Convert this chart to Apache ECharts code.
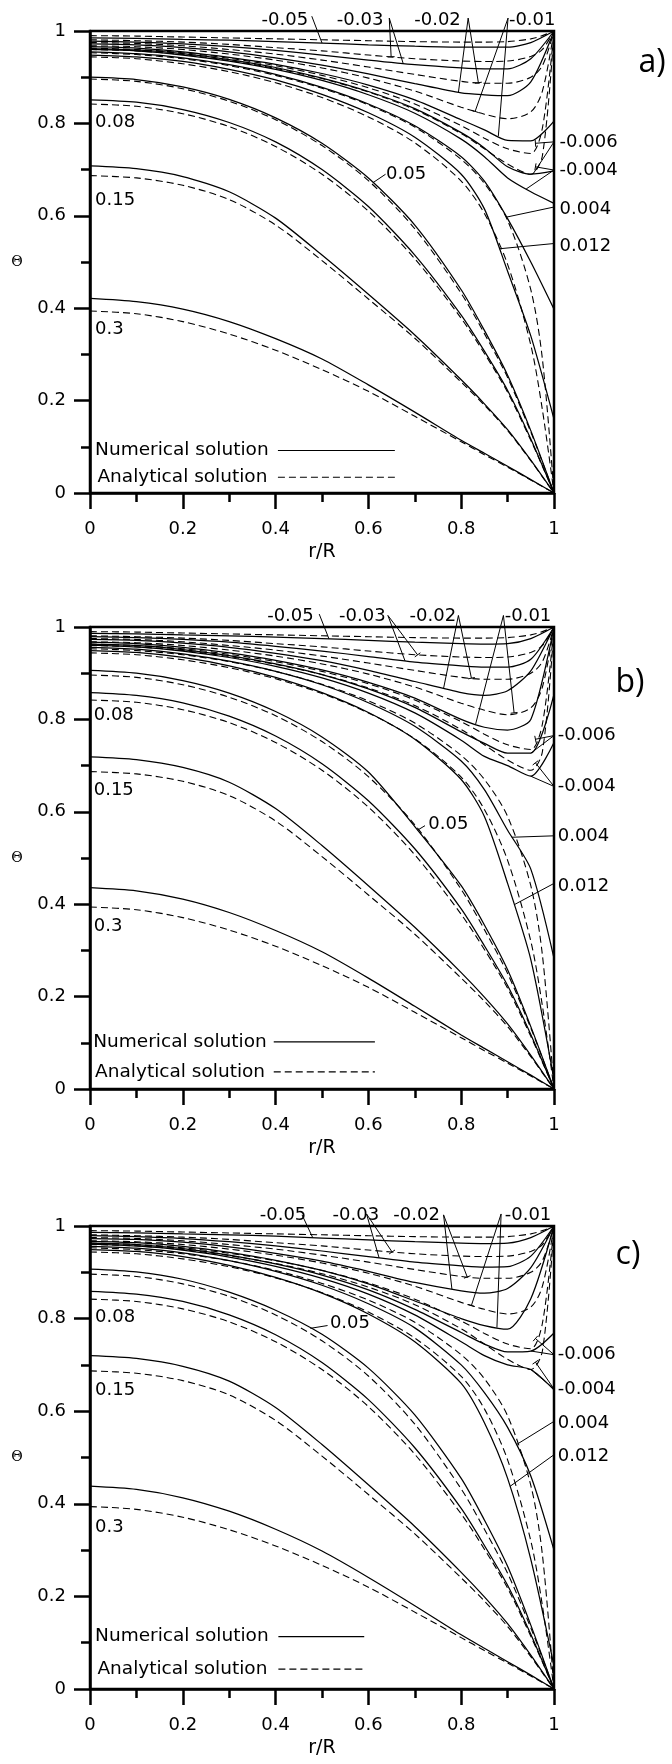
<!DOCTYPE html>
<html>
<head>
<meta charset="utf-8">
<script src="https://cdn.jsdelivr.net/npm/echarts@6/dist/echarts.min.js"></script>
<style>
  html, body { margin: 0; padding: 0; background: #fff; }
  #chart { width: 672px; height: 1764px; }
</style>
</head>
<body>
<div id="chart"></div>
<script>
// Radial positions of the numerical grid and of the analytical evaluation points
const R_NUM = [0, 0.1, 0.2, 0.3, 0.4, 0.5, 0.6, 0.7, 0.8, 0.85, 0.9, 0.95, 1];
const R_ANA = [0, 0.1, 0.2, 0.3, 0.4, 0.5, 0.6, 0.7, 0.8, 0.85, 0.9, 0.95, 0.975, 1];

// Curve parameter of each profile (row order of the value tables below)
const PARAMS = ['-0.05', '-0.03', '-0.02', '-0.01', '-0.006', '-0.004', '0.004', '0.012', '0.05', '0.08', '0.15', '0.3'];

// Analytical solution (same in all three panels), on R_ANA
const ANA = [
  [0.990, 0.989, 0.987, 0.985, 0.983, 0.981, 0.979, 0.977, 0.976, 0.976, 0.977, 0.983, 0.990, 1.0],
  [0.981, 0.979, 0.976, 0.971, 0.964, 0.957, 0.948, 0.940, 0.935, 0.934, 0.935, 0.945, 0.960, 1.0],
  [0.975, 0.973, 0.968, 0.960, 0.950, 0.937, 0.922, 0.906, 0.891, 0.887, 0.887, 0.900, 0.925, 1.0],
  [0.968, 0.966, 0.960, 0.950, 0.937, 0.920, 0.898, 0.870, 0.835, 0.820, 0.810, 0.825, 0.870, 1.0],
  [0.963, 0.960, 0.953, 0.941, 0.925, 0.904, 0.877, 0.842, 0.795, 0.768, 0.745, 0.735, 0.790, 1.0],
  [0.960, 0.957, 0.949, 0.936, 0.919, 0.897, 0.868, 0.830, 0.778, 0.745, 0.712, 0.690, 0.730, 1.0],
  [0.953, 0.949, 0.940, 0.925, 0.904, 0.876, 0.840, 0.792, 0.722, 0.670, 0.590, 0.440, 0.290, 0],
  [0.944, 0.940, 0.929, 0.912, 0.888, 0.856, 0.814, 0.758, 0.675, 0.605, 0.495, 0.320, 0.180, 0],
  [0.896, 0.891, 0.875, 0.848, 0.808, 0.752, 0.676, 0.572, 0.432, 0.345, 0.250, 0.132, 0.067, 0],
  [0.842, 0.837, 0.821, 0.793, 0.750, 0.690, 0.610, 0.507, 0.378, 0.302, 0.218, 0.114, 0.058, 0],
  [0.687, 0.682, 0.666, 0.635, 0.580, 0.503, 0.420, 0.335, 0.240, 0.190, 0.135, 0.070, 0.035, 0],
  [0.394, 0.388, 0.371, 0.344, 0.309, 0.267, 0.220, 0.166, 0.111, 0.083, 0.056, 0.028, 0.014, 0]
];

// Numerical solution, panel a), on R_NUM
const NUM_A = [
  [0.985, 0.984, 0.982, 0.980, 0.977, 0.974, 0.970, 0.967, 0.965, 0.965, 0.965, 0.975, 1.0],
  [0.978, 0.976, 0.972, 0.966, 0.958, 0.948, 0.937, 0.927, 0.920, 0.918, 0.918, 0.940, 1.0],
  [0.972, 0.970, 0.964, 0.955, 0.942, 0.926, 0.907, 0.886, 0.866, 0.862, 0.860, 0.890, 1.0],
  [0.966, 0.963, 0.955, 0.943, 0.928, 0.908, 0.883, 0.851, 0.808, 0.786, 0.763, 0.762, 0.805],
  [0.962, 0.959, 0.951, 0.938, 0.921, 0.898, 0.869, 0.832, 0.780, 0.747, 0.706, 0.690, 0.697],
  [0.960, 0.957, 0.948, 0.935, 0.917, 0.893, 0.862, 0.822, 0.766, 0.728, 0.682, 0.652, 0.627],
  [0.955, 0.951, 0.942, 0.927, 0.906, 0.878, 0.842, 0.795, 0.728, 0.675, 0.594, 0.500, 0.398],
  [0.948, 0.944, 0.934, 0.917, 0.894, 0.863, 0.823, 0.770, 0.690, 0.615, 0.480, 0.340, 0.160],
  [0.900, 0.895, 0.879, 0.852, 0.812, 0.757, 0.682, 0.580, 0.440, 0.352, 0.255, 0.135, 0],
  [0.851, 0.846, 0.830, 0.802, 0.760, 0.700, 0.620, 0.515, 0.385, 0.307, 0.222, 0.117, 0],
  [0.708, 0.702, 0.685, 0.652, 0.595, 0.515, 0.430, 0.342, 0.245, 0.193, 0.137, 0.071, 0],
  [0.421, 0.414, 0.398, 0.371, 0.334, 0.290, 0.234, 0.175, 0.114, 0.086, 0.058, 0.029, 0]
];

// Numerical solution, panel b)
const NUM_B = [
  [0.986, 0.985, 0.983, 0.981, 0.978, 0.975, 0.971, 0.967, 0.964, 0.963, 0.964, 0.975, 1.0],
  [0.979, 0.977, 0.973, 0.967, 0.958, 0.948, 0.936, 0.924, 0.916, 0.913, 0.913, 0.930, 1.0],
  [0.973, 0.971, 0.965, 0.956, 0.943, 0.927, 0.906, 0.882, 0.858, 0.852, 0.862, 0.905, 1.0],
  [0.967, 0.964, 0.956, 0.944, 0.928, 0.907, 0.880, 0.846, 0.800, 0.783, 0.777, 0.800, 1.0],
  [0.963, 0.960, 0.951, 0.938, 0.920, 0.897, 0.866, 0.826, 0.773, 0.748, 0.727, 0.727, 0.854],
  [0.961, 0.957, 0.948, 0.934, 0.915, 0.890, 0.857, 0.814, 0.755, 0.720, 0.700, 0.677, 0.750],
  [0.956, 0.952, 0.942, 0.926, 0.904, 0.875, 0.836, 0.785, 0.710, 0.648, 0.560, 0.476, 0.283],
  [0.949, 0.945, 0.934, 0.916, 0.891, 0.858, 0.815, 0.757, 0.670, 0.590, 0.445, 0.280, 0.020],
  [0.906, 0.900, 0.884, 0.857, 0.817, 0.762, 0.686, 0.568, 0.440, 0.355, 0.258, 0.135, 0],
  [0.858, 0.852, 0.836, 0.807, 0.764, 0.704, 0.624, 0.520, 0.390, 0.310, 0.224, 0.118, 0],
  [0.719, 0.713, 0.696, 0.664, 0.607, 0.527, 0.440, 0.350, 0.252, 0.199, 0.141, 0.073, 0],
  [0.436, 0.429, 0.411, 0.382, 0.343, 0.297, 0.240, 0.179, 0.117, 0.088, 0.059, 0.030, 0]
];

// Numerical solution, panel c)
const NUM_C = [
  [0.986, 0.985, 0.983, 0.981, 0.978, 0.974, 0.970, 0.966, 0.963, 0.962, 0.963, 0.975, 1.0],
  [0.979, 0.977, 0.973, 0.966, 0.957, 0.946, 0.934, 0.922, 0.914, 0.911, 0.912, 0.935, 1.0],
  [0.973, 0.971, 0.965, 0.955, 0.941, 0.924, 0.902, 0.878, 0.860, 0.855, 0.865, 0.910, 1.0],
  [0.967, 0.964, 0.956, 0.943, 0.926, 0.904, 0.875, 0.838, 0.800, 0.785, 0.777, 0.843, 1.0],
  [0.963, 0.960, 0.951, 0.937, 0.918, 0.894, 0.862, 0.820, 0.770, 0.745, 0.728, 0.730, 0.769],
  [0.961, 0.957, 0.948, 0.933, 0.913, 0.887, 0.853, 0.808, 0.750, 0.720, 0.700, 0.690, 0.646],
  [0.956, 0.952, 0.942, 0.925, 0.902, 0.872, 0.832, 0.780, 0.700, 0.640, 0.565, 0.460, 0.300],
  [0.949, 0.945, 0.934, 0.915, 0.889, 0.855, 0.810, 0.750, 0.660, 0.575, 0.455, 0.280, 0.050],
  [0.907, 0.901, 0.885, 0.857, 0.818, 0.766, 0.693, 0.592, 0.455, 0.365, 0.265, 0.138, 0],
  [0.859, 0.853, 0.837, 0.808, 0.765, 0.705, 0.625, 0.521, 0.390, 0.310, 0.224, 0.118, 0],
  [0.720, 0.714, 0.697, 0.665, 0.608, 0.528, 0.441, 0.351, 0.252, 0.199, 0.141, 0.073, 0],
  [0.438, 0.431, 0.413, 0.384, 0.345, 0.298, 0.241, 0.180, 0.117, 0.088, 0.059, 0.030, 0]
];

// Curve labels: [text, anchor r, anchor Θ, align, leader start r, leader start Θ, targets]
// target = [row in PARAMS, 'n' numerical | 'a' analytical, r where the leader touches]
const LABELS_A = [
  ['-0.05', 0.420, 1.024, 'center', 0.478, 1.032, [[0, 'n', 0.50]]],
  ['-0.03', 0.582, 1.024, 'center', 0.645, 1.028, [[1, 'a', 0.649], [1, 'n', 0.675]]],
  ['-0.02', 0.749, 1.024, 'center', 0.815, 1.028, [[2, 'n', 0.794], [2, 'a', 0.837]]],
  ['-0.01', 0.953, 1.024, 'center', 0.901, 1.028, [[3, 'a', 0.830], [3, 'n', 0.880]]],
  ['-0.006', 1.012, 0.760, 'left', 1.0, 0.760, [[4, 'n', 0.955], [4, 'a', 0.960]]],
  ['-0.004', 1.012, 0.699, 'left', 1.0, 0.699, [[5, 'n', 0.940], [5, 'a', 0.960]]],
  ['0.004', 1.012, 0.614, 'left', 1.0, 0.619, [[6, 'n', 0.898]]],
  ['0.012', 1.012, 0.535, 'left', 1.0, 0.540, [[7, 'n', 0.882]]],
  ['0.05', 0.638, 0.690, 'left', 0.637, 0.690, [[8, 'n', 0.610]]],
  ['0.08', 0.011, 0.802, 'left'],
  ['0.15', 0.011, 0.633, 'left'],
  ['0.3', 0.011, 0.355, 'left']
];
const LABELS_B = [
  ['-0.05', 0.432, 1.024, 'center', 0.494, 1.028, [[0, 'n', 0.515]]],
  ['-0.03', 0.587, 1.024, 'center', 0.642, 1.025, [[1, 'n', 0.679], [1, 'a', 0.706]]],
  ['-0.02', 0.739, 1.024, 'center', 0.794, 1.025, [[2, 'n', 0.762], [2, 'a', 0.822]]],
  ['-0.01', 0.944, 1.024, 'center', 0.891, 1.025, [[3, 'n', 0.831], [3, 'a', 0.914]]],
  ['-0.006', 1.008, 0.765, 'left', 1.0, 0.765, [[4, 'n', 0.950], [4, 'a', 0.960]]],
  ['-0.004', 1.008, 0.655, 'left', 1.0, 0.655, [[5, 'n', 0.950], [5, 'a', 0.960]]],
  ['0.004', 1.008, 0.546, 'left', 1.0, 0.548, [[6, 'n', 0.909]]],
  ['0.012', 1.008, 0.439, 'left', 1.0, 0.445, [[7, 'n', 0.914]]],
  ['0.05', 0.729, 0.573, 'left', 0.722, 0.570, [[8, 'n', 0.706]]],
  ['0.08', 0.008, 0.809, 'left'],
  ['0.15', 0.008, 0.646, 'left'],
  ['0.3', 0.008, 0.353, 'left']
];
const LABELS_C = [
  ['-0.05', 0.416, 1.024, 'center', 0.457, 1.024, [[0, 'n', 0.480]]],
  ['-0.03', 0.573, 1.024, 'center', 0.596, 1.026, [[1, 'n', 0.623], [1, 'a', 0.651]]],
  ['-0.02', 0.704, 1.024, 'center', 0.762, 1.024, [[2, 'n', 0.780], [2, 'a', 0.813]]],
  ['-0.01', 0.944, 1.024, 'center', 0.886, 1.026, [[3, 'a', 0.822], [3, 'n', 0.877]]],
  ['-0.006', 1.008, 0.722, 'left', 1.0, 0.722, [[4, 'n', 0.950], [4, 'a', 0.960]]],
  ['-0.004', 1.008, 0.648, 'left', 1.0, 0.648, [[5, 'n', 0.950], [5, 'a', 0.960]]],
  ['0.004', 1.008, 0.574, 'left', 1.0, 0.578, [[6, 'n', 0.918]]],
  ['0.012', 1.008, 0.502, 'left', 1.0, 0.506, [[7, 'n', 0.905]]],
  ['0.05', 0.517, 0.790, 'left', 0.512, 0.785, [[8, 'n', 0.475]]],
  ['0.08', 0.011, 0.803, 'left'],
  ['0.15', 0.011, 0.646, 'left'],
  ['0.3', 0.011, 0.350, 'left']
];

// Panel layout
const PANELS = [
  { tag: 'a)', tagPos: [652, 63],   top: 31,   height: 462, num: NUM_A, labels: LABELS_A,
    legend: { numY: 0.092, anaY: 0.034, textR: [0.011, 0.016], lineR: [0.405, 0.657] } },
  { tag: 'b)', tagPos: [630, 683],  top: 627,  height: 462, num: NUM_B, labels: LABELS_B,
    legend: { numY: 0.102, anaY: 0.037, textR: [0.007, 0.011], lineR: [0.396, 0.614] } },
  { tag: 'c)', tagPos: [628, 1255], top: 1226, height: 463, num: NUM_C, labels: LABELS_C,
    legend: { numY: 0.113, anaY: 0.043, textR: [0.011, 0.016], lineR: [0.406, 0.591] } }
];

const FONT = '"DejaVu Sans", "Liberation Sans", sans-serif';
const INK = '#000';

const chart = echarts.init(document.getElementById('chart'), null, { renderer: 'canvas' });

const grids = [], xAxes = [], yAxes = [], series = [];
PANELS.forEach((p, pi) => {
  grids.push({ left: 90, width: 464, top: p.top, height: p.height, show: true,
               borderColor: INK, borderWidth: 2.5, backgroundColor: 'transparent', containLabel: false });
  const common = {
    type: 'value', gridIndex: pi, min: 0, max: 1, interval: 0.2,
    axisLine: { show: true, onZero: false, lineStyle: { color: INK, width: 2.5 } },
    axisTick: { show: true, inside: false, length: 16, lineStyle: { color: INK, width: 2.5 } },
    minorTick: { show: true, splitNumber: 2, length: 9, lineStyle: { color: INK, width: 2.5 } },
    splitLine: { show: false },
    minorSplitLine: { show: false }
  };
  xAxes.push(Object.assign({}, common, {
    position: 'bottom',
    axisLabel: { margin: 27, color: INK, fontSize: 18, fontFamily: FONT },
    name: 'r/R', nameLocation: 'middle', nameGap: 50,
    nameTextStyle: { color: INK, fontSize: 19, fontFamily: FONT }
  }));
  yAxes.push(Object.assign({}, common, {
    position: 'left',
    axisLabel: { margin: 24, color: INK, fontSize: 18, fontFamily: FONT }
  }));

  PARAMS.forEach((name, i) => {
    series.push({
      name: p.tag + ' analytical ' + name, type: 'line', xAxisIndex: pi, yAxisIndex: pi,
      data: R_ANA.map((r, k) => [r, ANA[i][k]]),
      showSymbol: false, symbol: 'none', smooth: 0.3,
      lineStyle: { color: INK, width: 1.1, type: [7, 4] },
      silent: true, animation: false, z: 2
    });
    series.push({
      name: p.tag + ' numerical ' + name, type: 'line', xAxisIndex: pi, yAxisIndex: pi,
      data: R_NUM.map((r, k) => [r, p.num[i][k]]),
      showSymbol: false, symbol: 'none', smooth: 0.25,
      lineStyle: { color: INK, width: 1.25 },
      silent: true, animation: false, z: 3
    });
  });
});

chart.setOption({
  backgroundColor: '#fff',
  animation: false,
  grid: grids, xAxis: xAxes, yAxis: yAxes, series: series
});

// Linear lookup of a curve value at radius r
function valueAt(xs, ys, r) {
  for (let k = 0; k < xs.length - 1; k++) {
    if (r >= xs[k] && r <= xs[k + 1]) {
      const t = (r - xs[k]) / (xs[k + 1] - xs[k]);
      return ys[k] + t * (ys[k + 1] - ys[k]);
    }
  }
  return ys[ys.length - 1];
}

const graphics = [];
const lineEl = (a, b, w, dash) => ({
  type: 'line', silent: true, z: 10,
  shape: { x1: a[0], y1: a[1], x2: b[0], y2: b[1] },
  style: { stroke: INK, lineWidth: w || 1, lineDash: dash || null }
});
const textEl = (x, y, text, size, align, family) => ({
  type: 'text', silent: true, z: 11, x: x, y: y,
  style: { text: text, fill: INK, font: size + 'px ' + (family || FONT),
           align: align || 'left', verticalAlign: 'middle',
           textAlign: align || 'left', textVerticalAlign: 'middle' }
});

PANELS.forEach((p, pi) => {
  const toPx = (r, t) => chart.convertToPixel({ gridIndex: pi }, [r, t]);

  // Curve labels and their leader lines
  p.labels.forEach(lb => {
    const at = toPx(lb[1], lb[2]);
    graphics.push(textEl(at[0], at[1], lb[0], 18, lb[3]));
    if (lb[6]) {
      const from = toPx(lb[4], lb[5]);
      lb[6].forEach(tg => {
        const ys = tg[1] === 'a' ? ANA[tg[0]] : p.num[tg[0]];
        const xs = tg[1] === 'a' ? R_ANA : R_NUM;
        const tip = toPx(tg[2], valueAt(xs, ys, tg[2]));
        graphics.push(lineEl(from, tip, 1));
        if (tg[1] === 'a') {
          // short cross bar where a leader meets an analytical curve
          const dx = tip[0] - from[0], dy = tip[1] - from[1];
          const len = Math.hypot(dx, dy) || 1;
          const nx = -dy / len * 3.5, ny = dx / len * 3.5;
          graphics.push(lineEl([tip[0] - nx, tip[1] - ny], [tip[0] + nx, tip[1] + ny], 1));
        }
      });
    }
  });

  // Legend inside the plot
  const lg = p.legend;
  const n1 = toPx(lg.textR[0], lg.numY), n2 = toPx(lg.lineR[0], lg.numY), n3 = toPx(lg.lineR[1], lg.numY);
  graphics.push(textEl(n1[0], n1[1], 'Numerical solution', 18.5, 'left'));
  graphics.push(lineEl(n2, n3, 1.2));
  const a1 = toPx(lg.textR[1], lg.anaY), a2 = toPx(lg.lineR[0], lg.anaY), a3 = toPx(lg.lineR[1], lg.anaY);
  graphics.push(textEl(a1[0], a1[1], 'Analytical solution', 18.5, 'left'));
  graphics.push(lineEl(a2, a3, 1.1, [7, 4]));

  // Y-axis symbol and panel tag
  graphics.push(textEl(17, p.top + p.height / 2, 'Θ', 14, 'center', '"DejaVu Serif", serif'));
  graphics.push(textEl(p.tagPos[0], p.tagPos[1], p.tag, 32, 'center', '"Open Sans", "Noto Sans", sans-serif'));
});

chart.setOption({ graphic: { elements: graphics } });
</script>
</body>
</html>
